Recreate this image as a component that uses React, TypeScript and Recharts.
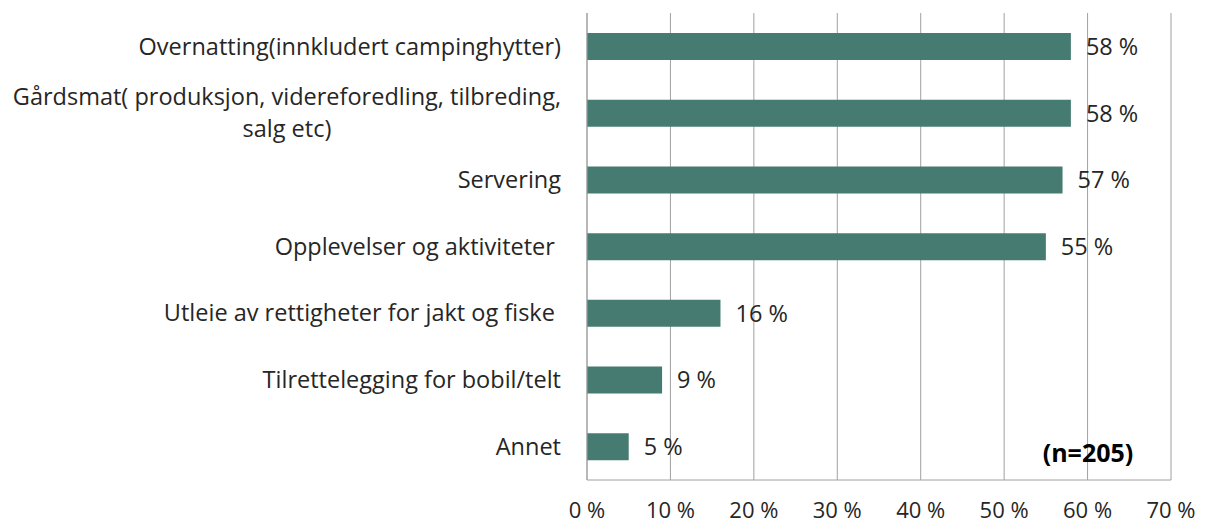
import { Bar, BarChart, CartesianGrid, LabelList, XAxis, YAxis } from "recharts";

const categories = [
  "Overnatting(innkludert campinghytter)",
  "Gårdsmat( produksjon, videreforedling, tilbreding, salg etc)",
  "Servering",
  "Opplevelser og aktiviteter ",
  "Utleie av rettigheter for jakt og fiske ",
  "Tilrettelegging for bobil/telt",
  "Annet"
];
const shares = [58, 58, 57, 55, 16, 9, 5];
const xTicks = [0, 10, 20, 30, 40, 50, 60, 70];
const sampleNote = "(n=205)";

const FONT = "'Open Sans', Lato, sans-serif";
const FONT_SIZE = 23.5;
const TICK_SIZE = 22;
const TEXT_COLOR = "#262626";
const GRID_COLOR = "#a0a0a0";
const BAR_COLOR = "#467b72";

const data = categories.map((name, i) => ({ name, value: shares[i] }));

let measureCtx: CanvasRenderingContext2D | null = null;
function measure(text: string) {
  if (!measureCtx) {
    measureCtx = document.createElement("canvas").getContext("2d");
  }
  if (!measureCtx) return text.length * FONT_SIZE * 0.5;
  measureCtx.font = `${FONT_SIZE}px ${FONT}`;
  return measureCtx.measureText(text).width;
}

function wrap(text: string, maxChars: number) {
  const words = text.split(" ");
  const lines: string[] = [];
  let current = "";
  for (const word of words) {
    const next = current ? `${current} ${word}` : word;
    if (next.length > maxChars && current) {
      lines.push(current);
      current = word;
    } else {
      current = next;
    }
  }
  if (current) lines.push(current);
  return lines;
}

function CategoryTick({ x, y, payload }: { x?: number; y?: number; payload?: { value: string } }) {
  const label = payload?.value ?? "";
  const lines = wrap(label, 50);
  const right = (x ?? 0) - 26;
  const cy = y ?? 0;
  if (lines.length === 1) {
    return (
      <text x={right} y={cy} dy="0.35em" textAnchor="end" fill={TEXT_COLOR}
        style={{ fontFamily: FONT, fontSize: FONT_SIZE, whiteSpace: "pre" }}>
        {label}
      </text>
    );
  }
  const blockWidth = Math.max(...lines.map(measure));
  const center = right - blockWidth / 2;
  const lineHeight = 32;
  const top = cy - ((lines.length - 1) * lineHeight) / 2;
  return (
    <text textAnchor="middle" fill={TEXT_COLOR} style={{ fontFamily: FONT, fontSize: FONT_SIZE }}>
      {lines.map((line, i) => (
        <tspan key={i} x={center} y={top + i * lineHeight} dy="0.35em">{line}</tspan>
      ))}
    </text>
  );
}

function PercentTick({ x, y, payload }: { x?: number; y?: number; payload?: { value: number } }) {
  return (
    <text x={x} y={(y ?? 0) + 30} dy="0.35em" textAnchor="middle" fill={TEXT_COLOR}
      style={{ fontFamily: FONT, fontSize: TICK_SIZE }}>
      {`${payload?.value} %`}
    </text>
  );
}

export default function App() {
  return (
    <div style={{ position: "absolute", left: 0, top: 0, width: 1207, height: 523, background: "#fff" }}>
      <BarChart
        layout="vertical"
        width={1207}
        height={523}
        data={data}
        margin={{ top: 13, right: 36, bottom: 0, left: 0 }}
        barSize={27}
      >
        <CartesianGrid horizontal={false} stroke={GRID_COLOR} strokeWidth={1} />
        <XAxis
          type="number"
          domain={[0, 70]}
          ticks={xTicks}
          interval={0}
          height={43}
          tickSize={0}
          tickMargin={0}
          axisLine={{ stroke: GRID_COLOR }}
          tickLine={false}
          tick={<PercentTick />}
        />
        <YAxis
          type="category"
          dataKey="name"
          width={587}
          tickSize={0}
          tickMargin={0}
          axisLine={{ stroke: GRID_COLOR }}
          tickLine={false}
          interval={0}
          tick={<CategoryTick />}
        />
        <Bar dataKey="value" fill={BAR_COLOR} isAnimationActive={false}>
          <LabelList
            dataKey="value"
            position="right"
            offset={15}
            formatter={(v: any) => `${v} %`}
            style={{ fontFamily: FONT, fontSize: FONT_SIZE, fill: TEXT_COLOR }}
          />
        </Bar>
      </BarChart>
      <div
        style={{
          position: "absolute",
          left: 1028,
          width: 120,
          top: 436,
          textAlign: "center",
          fontFamily: FONT,
          fontSize: 25,
          fontWeight: "bold",
          color: "#000",
          lineHeight: "32px"
        }}
      >
        {sampleNote}
      </div>
    </div>
  );
}
